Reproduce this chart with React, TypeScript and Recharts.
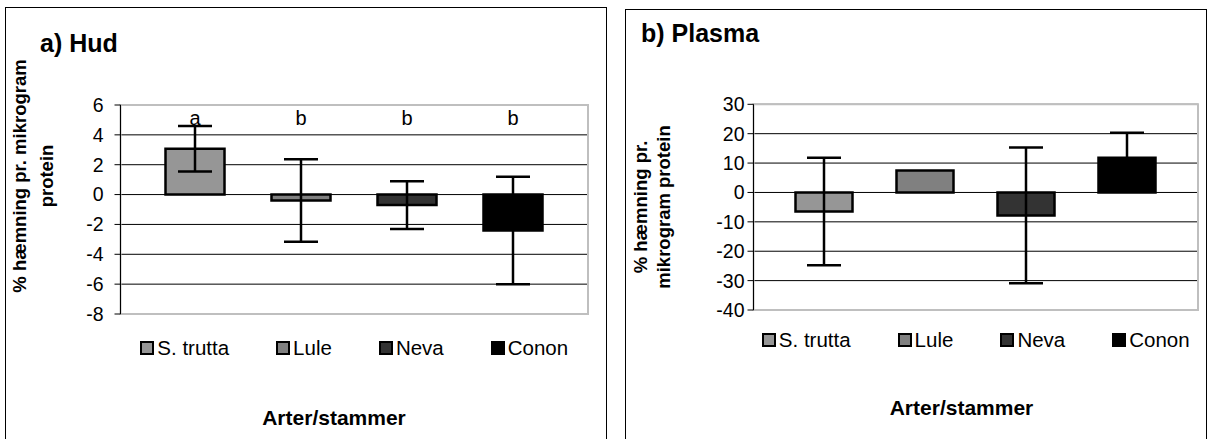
import React from "react";
import {
  BarChart,
  Bar,
  XAxis,
  YAxis,
  CartesianGrid,
  ErrorBar,
  Legend,
  LabelList,
  ReferenceArea,
} from "recharts";

const FONT = "Arial, 'Liberation Sans', Helvetica, sans-serif";

// series (one bar per strain)
const SERIES = ["S. trutta", "Lule", "Neva", "Conon"];
const FILLS = ["#969696", "#808080", "#333333", "#000000"];

// a) Hud
const HUD_MEAN = [3.07, -0.4, -0.7, -2.4];
const HUD_ERR = [1.52, 2.76, 1.6, 3.6];
const HUD_LETTERS = ["a", "b", "b", "b"];
const HUD_TICKS = [-8, -6, -4, -2, 0, 2, 4, 6];

// b) Plasma
const PLASMA_MEAN = [-6.5, 7.5, -7.8, 11.8];
const PLASMA_ERR: (number | null)[] = [18.3, null, 23.1, 8.5];
const PLASMA_TICKS = [-40, -30, -20, -10, 0, 10, 20, 30];

const LETTER_LEVEL = 5.15;

function buildRow(means: number[], errs: (number | null)[]) {
  const row: Record<string, any> = { cat: "" };
  means.forEach((m, i) => {
    row[`v${i}`] = m;
    row[`e${i}`] = errs[i];
  });
  return [row];
}

// letter drawn at a fixed data level, derived from the bar's own scale
const letterLabel = (letter: string, v: number) => (props: any) => {
  const vb = props.viewBox ?? props;
  const { x, y, width, height } = vb;
  if (!v || !height) return null;
  const ppu = Math.abs(height) / Math.abs(v);
  const valPx = v >= 0 ? Math.min(y, y + height) : Math.max(y, y + height);
  const zeroPx = valPx + v * ppu;
  return (
    <text
      x={x + width / 2}
      y={zeroPx - LETTER_LEVEL * ppu}
      textAnchor="middle"
      dominantBaseline="central"
      fontSize={20}
      fontFamily={FONT}
      fill="#000"
    >
      {letter}
    </text>
  );
};

// keep the legend in series order (recharts sorts by name otherwise)
const legendContent = () => (
  <div
    style={{
      display: "flex",
      justifyContent: "center",
      gap: 47,
      fontFamily: FONT,
      fontSize: 20.5,
      lineHeight: "24px",
      color: "#000",
    }}
  >
    {SERIES.map((name, i) => (
      <div key={name} style={{ display: "flex", alignItems: "center" }}>
        <span
          style={{
            display: "inline-block",
            width: 14,
            height: 14,
            boxSizing: "border-box",
            border: "2px solid #000",
            background: FILLS[i],
            marginRight: 3,
          }}
        />
        <span>{name}</span>
      </div>
    ))}
  </div>
);

type PanelProps = {
  x: number;
  width: number;
  plotLeft: number;
  plotRight: number;
  plotTop: number;
  plotBottom: number;
  barSize: number;
  barGap: number;
  means: number[];
  errs: (number | null)[];
  ticks: number[];
  letters?: string[];
  tickMargin: number;
  yTitle: string[];
  yTitleX: number;
  yTitleY: number;
  yTitleGap: number;
  xTitleX: number;
  xTitleY: number;
  legendTop: number;
};

function Panel(p: PanelProps) {
  const data = buildRow(p.means, p.errs);
  const yw = 60;
  const plotW = p.plotRight - p.plotLeft;
  const min = p.ticks[0];
  const max = p.ticks[p.ticks.length - 1];
  return (
    <div style={{ position: "absolute", left: p.x, top: 0 }}>
      <BarChart
        width={p.width}
        height={439}
        data={data}
        margin={{ top: p.plotTop, right: p.width - p.plotRight, bottom: 0, left: p.plotLeft - yw }}
        barGap={p.barGap}
        barSize={p.barSize}
        style={{ fontFamily: FONT }}
      >
        <CartesianGrid vertical={false} stroke="#000" strokeWidth={1} />
        <ReferenceArea y1={min} y2={max} fill="none" stroke="#bfbfbf" strokeWidth={2} />
        <XAxis
          dataKey="cat"
          tick={false}
          tickLine={false}
          axisLine={false}
          height={439 - p.plotBottom}
          label={() => (
            <text
              x={p.xTitleX}
              y={p.xTitleY}
              textAnchor="middle"
              dominantBaseline="central"
              fontSize={21}
              fontWeight="bold"
              fontFamily={FONT}
              fill="#000"
            >
              Arter/stammer
            </text>
          )}
        />
        <YAxis
          width={yw}
          domain={[min, max]}
          ticks={p.ticks}
          interval={0}
          tickSize={6}
          tickMargin={p.tickMargin}
          tickLine={{ stroke: "#000" }}
          axisLine={{ stroke: "#000" }}
          tick={{ fill: "#000", fontSize: 19.5, fontFamily: FONT }}
          label={() => (
            <text
              transform={`rotate(-90, ${p.yTitleX}, ${p.yTitleY})`}
              x={p.yTitleX}
              y={p.yTitleY}
              textAnchor="middle"
              fontSize={18.5}
              fontWeight="bold"
              fontFamily={FONT}
              fill="#000"
            >
              {p.yTitle.map((line, i) => (
                <tspan
                  key={i}
                  x={p.yTitleX}
                  y={p.yTitleY + (i - (p.yTitle.length - 1) / 2) * p.yTitleGap}
                  dominantBaseline="central"
                >
                  {line}
                </tspan>
              ))}
            </text>
          )}
        />
        <Legend
          layout="horizontal"
          verticalAlign="middle"
          align="center"
          width={plotW}
          wrapperStyle={{ left: p.plotLeft, top: p.legendTop, width: plotW }}
          content={legendContent}
        />
        {SERIES.map((name, i) => (
          <Bar
            key={name}
            dataKey={`v${i}`}
            name={name}
            fill={FILLS[i]}
            stroke="#000"
            strokeWidth={2.5}
            isAnimationActive={false}
          >
            {p.errs[i] != null && (
              <ErrorBar
                dataKey={`e${i}`}
                direction="y"
                width={17}
                stroke="#000"
                strokeWidth={2.5}
                isAnimationActive={false}
              />
            )}
            {p.letters && (
              <LabelList dataKey={`v${i}`} content={letterLabel(p.letters[i], p.means[i])} />
            )}
          </Bar>
        ))}
      </BarChart>
    </div>
  );
}

const titleStyle: React.CSSProperties = {
  position: "absolute",
  fontFamily: FONT,
  fontWeight: "bold",
  fontSize: 25,
  lineHeight: "25px",
  color: "#000",
  whiteSpace: "nowrap",
};

export default function App() {
  return (
    <div
      style={{
        position: "absolute",
        left: 0,
        top: 0,
        width: 1210,
        height: 439,
        overflow: "hidden",
        background: "#fff",
      }}
    >
      <div
        style={{
          position: "absolute",
          left: 5,
          top: 7,
          width: 602,
          height: 500,
          border: "1px solid #000",
          boxSizing: "border-box",
        }}
      />
      <div
        style={{
          position: "absolute",
          left: 625,
          top: 9,
          width: 582,
          height: 500,
          border: "1px solid #000",
          boxSizing: "border-box",
        }}
      />
      <div style={{ ...titleStyle, left: 40, top: 31 }}>a) Hud</div>
      <div style={{ ...titleStyle, left: 641, top: 21 }}>b) Plasma</div>

      <Panel
        x={0}
        width={607}
        plotLeft={120.5}
        plotRight={588}
        plotTop={105}
        plotBottom={314}
        barSize={59}
        barGap={47}
        means={HUD_MEAN}
        errs={HUD_ERR}
        ticks={HUD_TICKS}
        letters={HUD_LETTERS}
        tickMargin={11}
        yTitle={["% hæmning pr. mikrogram", "protein"]}
        yTitleX={33}
        yTitleY={176}
        yTitleGap={27}
        xTitleX={334}
        xTitleY={417}
        legendTop={336}
      />
      <Panel
        x={610}
        width={600}
        plotLeft={143.5}
        plotRight={588}
        plotTop={104.3}
        plotBottom={310}
        barSize={57}
        barGap={44}
        means={PLASMA_MEAN}
        errs={PLASMA_ERR}
        ticks={PLASMA_TICKS}
        tickMargin={3}
        yTitle={["% hæmning pr.", "mikrogram protein"]}
        yTitleX={42}
        yTitleY={207}
        yTitleGap={23}
        xTitleX={351.5}
        xTitleY={407}
        legendTop={328}
      />
    </div>
  );
}
